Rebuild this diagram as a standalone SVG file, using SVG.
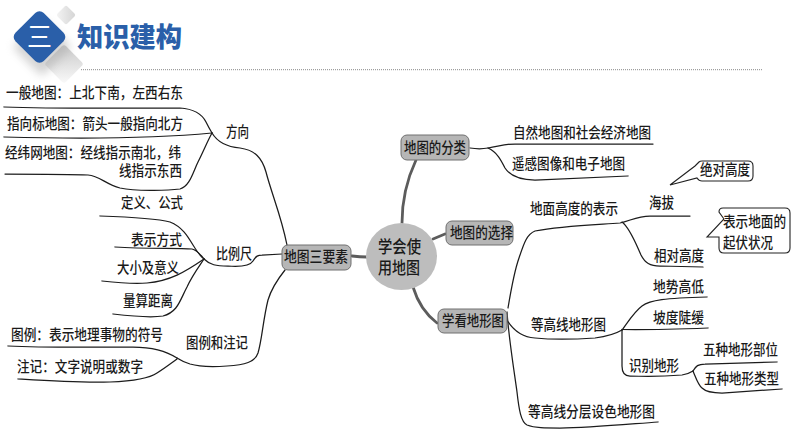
<svg xmlns="http://www.w3.org/2000/svg" width="794" height="447" viewBox="0 0 794 447">
<defs>
<linearGradient id="sh" x1="0" y1="0" x2="1" y2="1"><stop offset="0" stop-color="#c8c8c8"/><stop offset="1" stop-color="#fafafa"/></linearGradient>
<linearGradient id="sh2" x1="1" y1="0" x2="0" y2="1"><stop offset="0" stop-color="#d4d4d4"/><stop offset="1" stop-color="#f4f4f4"/></linearGradient>
<filter id="bl" x="-40%" y="-40%" width="180%" height="180%"><feGaussianBlur stdDeviation="4"/></filter>
</defs>
<style>
text{font-family:"Noto Sans CJK SC","Noto Sans",sans-serif;font-size:14.5px;font-weight:500;fill:#1a1a1a}
.l path{fill:none;stroke:#1c1c1c;stroke-width:1.250;stroke-linecap:round}
.t{fill:none;stroke:#5c5c5c;stroke-width:2.800;stroke-linecap:round}
.n{fill:#b6b6b6;stroke:#707070;stroke-width:1}
.c{fill:#fff;stroke:#222;stroke-width:1.100}
</style>
<rect width="794" height="447" fill="#fff"/>
<g id="header">
<rect x="-7" y="-7" width="14" height="14" rx="2" transform="translate(66,15) rotate(45)" fill="url(#sh2)"/>
<rect x="-14" y="-14" width="28" height="28" rx="3" transform="translate(64,64) rotate(45)" fill="url(#sh)"/>
<rect x="-21" y="-21" width="42" height="42" rx="5" transform="translate(42,47) rotate(45)" fill="#aaa" opacity=".5" filter="url(#bl)"/>
<rect x="-20" y="-20" width="40" height="40" rx="6" transform="translate(39.500,37) rotate(45)" fill="#2a5fa9"/>
<text x="27" y="47" style="font-size:27px;font-weight:400;fill:#fff" textLength="25" lengthAdjust="spacingAndGlyphs">三</text>
<text x="77" y="47" style="font-size:27px;font-weight:900;fill:#2a5fa9" textLength="105" lengthAdjust="spacingAndGlyphs">知识建构</text>
<line x1="81" y1="69.700" x2="763" y2="69.700" stroke="#888" stroke-width="1" stroke-dasharray="1 1"/>
</g>
<g id="connectors">
<path class="t" d="M352,256Q360,257 367,257"/>
<path class="t" d="M416,160Q402,190 402,223"/>
<path class="t" d="M445,234L433,239"/>
<path class="t" d="M413,287Q420,310 437,323"/>
<g class="l">
<path d="M4,107C60,109 130,108 180,108C195,109 202,114 206,122C209,128 212,133 212,133"/>
<path d="M4,137C80,139 160,138 212,133"/>
<path d="M5,174C40,174 70,174 88,175C100,176 105,184 120,188C135,191 165,191 180,189C190,186 193,172 198,162C204,150 208,140 212,133"/>
<path d="M212,133C218,143 228,147 240,148C255,150 262,158 266,172C272,195 281,215 287,245"/>
<path d="M100,216C130,217 155,218 170,222C190,230 192,250 204,259"/>
<path d="M115,247C145,249 175,248 192,249C197,250 200,254 204,259"/>
<path d="M102,281C120,283 135,284 147,283C170,281 185,272 204,259"/>
<path d="M113,314C130,316 150,318 163,316C178,312 180,300 187,287C192,276 198,268 204,259"/>
<path d="M204,259C210,265 216,266 228,266C242,267 250,266 253,261C256,256 258,255 262,255L282,254"/>
<path d="M285,270C277,280 271,290 268,300C263,320 262,340 258,353C255,362 245,365 227,366C212,367 200,367 190,364C184,362 180,360 177,358"/>
<path d="M8,346C50,348 100,347 133,347C150,347 165,350 177,358"/>
<path d="M18,379C50,381 80,383 110,382C135,381 150,378 157,373C165,368 170,364 177,359"/>
<path d="M470,148C476,149 483,149 488,148C500,146 505,144 515,144L653,144"/>
<path d="M488,148C497,152 501,160 505,168C510,176 520,180 535,180L628,176"/>
<path d="M508,308C511,290 514,272 519,258C524,243 527,234 535,231C560,226 590,225 620,223C630,221 637,216 650,216L690,216"/>
<path d="M622,222C630,228 636,244 641,255C645,263 650,266 660,266L703,267"/>
<path d="M507,320C513,330 522,337 535,338C555,340 580,339 595,338C610,336 617,333 622,330"/>
<path d="M622,330C628,322 634,312 642,306C650,300 665,298 707,297"/>
<path d="M622,329.500C650,330 680,329 708,328"/>
<path d="M622,330L622,366C622,372 624,376 630,376C650,377 670,376 682,375C688,374 690,373 693,371"/>
<path d="M693,371C696,366 698,364 705,364L777,362"/>
<path d="M693,371C696,378 698,385 702,388C706,392 712,393 722,393L782,389"/>
<path d="M507,312C509,340 514,370 517,392C519,410 521,422 527,425C535,428 545,428 560,428C590,428 630,424 658,422"/>
</g>
</g>
<g id="center"><ellipse cx="401.500" cy="256.500" rx="35.500" ry="33.500" fill="#bdbdbd"/>
<text x="378" y="253" style="font-size:16.500px" textLength="43" lengthAdjust="spacingAndGlyphs">学会使</text>
<text x="378" y="274" style="font-size:16.500px" textLength="42" lengthAdjust="spacingAndGlyphs">用地图</text></g>
<g id="n-sanyaosu"><rect class="n" x="282" y="245" width="69" height="25" rx="6"/><text x="284" y="262" textLength="64" lengthAdjust="spacingAndGlyphs">地图三要素</text></g>
<g id="n-fenlei"><rect class="n" x="401" y="135" width="68" height="25" rx="6"/><text x="404" y="153" textLength="62" lengthAdjust="spacingAndGlyphs">地图的分类</text></g>
<g id="n-xuanze"><rect class="n" x="446" y="221" width="67" height="24" rx="6"/><text x="450" y="238" textLength="63" lengthAdjust="spacingAndGlyphs">地图的选择</text></g>
<g id="n-xuekan"><rect class="n" x="438" y="309" width="69" height="24" rx="6"/><text x="442" y="326" textLength="62" lengthAdjust="spacingAndGlyphs">学看地形图</text></g>
<g id="n-fangxiang"><text x="226" y="137" textLength="23" lengthAdjust="spacingAndGlyphs">方向</text></g>
<g id="n-a1"><text x="6" y="98" textLength="177" lengthAdjust="spacingAndGlyphs">一般地图：上北下南，左西右东</text></g>
<g id="n-a2"><text x="7" y="129" textLength="176" lengthAdjust="spacingAndGlyphs">指向标地图：箭头一般指向北方</text></g>
<g id="n-a3"><text x="5" y="158" textLength="176" lengthAdjust="spacingAndGlyphs">经纬网地图：经线指示南北，纬</text><text x="119" y="176" textLength="63" lengthAdjust="spacingAndGlyphs">线指示东西</text></g>
<g id="n-bili"><text x="216" y="259" textLength="36" lengthAdjust="spacingAndGlyphs">比例尺</text></g>
<g id="n-b1"><text x="121" y="208" textLength="62" lengthAdjust="spacingAndGlyphs">定义、公式</text></g>
<g id="n-b2"><text x="131" y="245" textLength="51" lengthAdjust="spacingAndGlyphs">表示方式</text></g>
<g id="n-b3"><text x="117" y="273" textLength="62" lengthAdjust="spacingAndGlyphs">大小及意义</text></g>
<g id="n-b4"><text x="123" y="306" textLength="50" lengthAdjust="spacingAndGlyphs">量算距离</text></g>
<g id="n-tuli"><text x="186" y="348" textLength="62" lengthAdjust="spacingAndGlyphs">图例和注记</text></g>
<g id="n-c1"><text x="11" y="340" textLength="152" lengthAdjust="spacingAndGlyphs">图例：表示地理事物的符号</text></g>
<g id="n-c2"><text x="17" y="372" textLength="126" lengthAdjust="spacingAndGlyphs">注记：文字说明或数字</text></g>
<g id="n-d1"><text x="513" y="138" textLength="138" lengthAdjust="spacingAndGlyphs">自然地图和社会经济地图</text></g>
<g id="n-d2"><text x="512" y="169" textLength="113" lengthAdjust="spacingAndGlyphs">遥感图像和电子地图</text></g>
<g id="n-dimian"><text x="530" y="214" textLength="88" lengthAdjust="spacingAndGlyphs">地面高度的表示</text></g>
<g id="n-haiba"><text x="649" y="208" textLength="25" lengthAdjust="spacingAndGlyphs">海拔</text></g>
<g id="n-juedui"><path class="c" d="M695,166L699,162Q700,161 702,161L748,161Q753,161 753,166L753,176Q753,181 748,181L702,181Q699,181 697,178L670,185Z"/><text x="700" y="175" textLength="50" lengthAdjust="spacingAndGlyphs">绝对高度</text></g>
<g id="n-biaoshi"><path class="c" d="M724,219L719,212Q719,208 723,208L785,208Q790,208 790,213L790,248Q790,253 785,253L724,253Q719,253 719,248L719,237L707,237Z"/><text x="723" y="227" textLength="63" lengthAdjust="spacingAndGlyphs">表示地面的</text><text x="723" y="248" textLength="50" lengthAdjust="spacingAndGlyphs">起伏状况</text></g>
<g id="n-xiangdui"><text x="654" y="261" textLength="50" lengthAdjust="spacingAndGlyphs">相对高度</text></g>
<g id="n-dengao"><text x="531" y="330" textLength="75" lengthAdjust="spacingAndGlyphs">等高线地形图</text></g>
<g id="n-e1"><text x="653" y="292" textLength="51" lengthAdjust="spacingAndGlyphs">地势高低</text></g>
<g id="n-e2"><text x="653" y="323" textLength="51" lengthAdjust="spacingAndGlyphs">坡度陡缓</text></g>
<g id="n-shibie"><text x="629" y="371" textLength="50" lengthAdjust="spacingAndGlyphs">识别地形</text></g>
<g id="n-f1"><text x="703" y="355" textLength="75" lengthAdjust="spacingAndGlyphs">五种地形部位</text></g>
<g id="n-f2"><text x="704" y="384" textLength="75" lengthAdjust="spacingAndGlyphs">五种地形类型</text></g>
<g id="n-fenceng"><text x="528" y="417" textLength="127" lengthAdjust="spacingAndGlyphs">等高线分层设色地形图</text></g>
</svg>
